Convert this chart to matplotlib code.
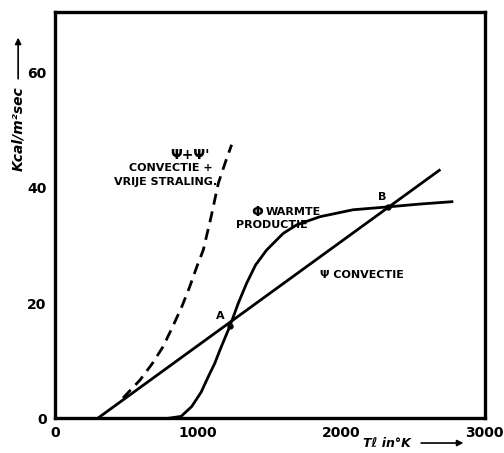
import matplotlib.pyplot as plt

# temperatures in K, heat flux in kcal/m2 sec
conv_T = [300, 2690]
conv_q = [0.0, 43.2]

prod_T = [800, 880, 954, 1020, 1070, 1115, 1151, 1221, 1280, 1337, 1400,
          1477, 1593, 1689, 1850, 2080, 2324, 2550, 2770]
prod_q = [0.0, 0.3, 2.0, 4.5, 7.2, 9.5, 11.8, 16.0, 20.0, 23.4, 26.6,
          29.2, 32.1, 33.6, 35.0, 36.2, 36.7, 37.2, 37.6]

rad_T = [475, 593, 680, 754, 820, 886, 940, 990, 1035, 1090, 1140, 1190, 1233]
rad_q = [3.5, 6.6, 9.5, 12.4, 15.8, 19.4, 22.8, 26.3, 29.2, 35.0, 40.8, 44.5, 47.5]

pts_name = ['A', 'B']
pts_T = [1221, 2324]
pts_q = [16.0, 36.7]

xticks = [0, 1000, 2000, 3000]
yticks = [0, 20, 40, 60]

fig = plt.figure(figsize=(5.04, 4.53), dpi=100)
ax = fig.add_axes([0.109, 0.077, 0.853, 0.897])

ax.plot(conv_T, conv_q, color='black', lw=2.0, solid_capstyle='butt')
ax.plot(prod_T, prod_q, color='black', lw=2.0)
ax.plot(rad_T, rad_q, color='black', lw=2.0, ls=(0, (4, 2.5)))
ax.plot(pts_T, pts_q, 'o', color='black', ms=3.5)

ax.set_xlim(0, 3000)
ax.set_ylim(0, 70.6)
ax.set_xticks(xticks)
ax.set_yticks(yticks)
ax.set_xticklabels([str(t) for t in xticks], fontsize=10, fontweight='bold')
ax.set_yticklabels([str(t) for t in yticks], fontsize=10, fontweight='bold')
ax.tick_params(length=0, pad=6)
for s in ax.spines.values():
    s.set_linewidth(2.4)

lab = dict(fontsize=8, fontweight='bold', color='black')
ax.text(942, 45.7, "Ψ+Ψ'", fontsize=10, fontweight='bold', ha='center', va='center')
ax.text(809, 43.5, 'CONVECTIE +', ha='center', va='center', **lab)
ax.text(771, 41.0, 'VRIJE STRALING.', ha='center', va='center', **lab)
ax.text(1450, 35.8, 'Φ', fontsize=10, fontweight='bold', ha='right', va='center')
ax.text(1470, 35.8, 'WARMTE', ha='left', va='center', **lab)
ax.text(1265, 33.6, 'PRODUCTIE', ha='left', va='center', **lab)
ax.text(1850, 24.9, 'Ψ CONVECTIE', ha='left', va='center', **lab)
ax.text(pts_T[0] - 40, pts_q[0] + 0.8, pts_name[0], ha='right', va='bottom', **lab)
ax.text(pts_T[1] - 40, pts_q[1] + 0.8, pts_name[1], ha='center', va='bottom', **lab)

# axis titles with arrows
arrow = dict(arrowstyle='-|>', lw=1.2, color='black', mutation_scale=9)
fig.text(0.036, 0.717, 'Kcal/m²sec', rotation=90, fontsize=10, style='italic',
         fontweight='bold', ha='center', va='center')
ax.annotate('', xy=(0.036, 0.923), xytext=(0.036, 0.82), xycoords='figure fraction',
            textcoords='figure fraction', arrowprops=arrow, annotation_clip=False)
fig.text(0.72, 0.022, 'Tℓ in°K', fontsize=9, style='italic', fontweight='bold',
         ha='left', va='center')
ax.annotate('', xy=(0.925, 0.022), xytext=(0.83, 0.022), xycoords='figure fraction',
            textcoords='figure fraction', arrowprops=arrow, annotation_clip=False)

fig.savefig('out.png', dpi=100)
